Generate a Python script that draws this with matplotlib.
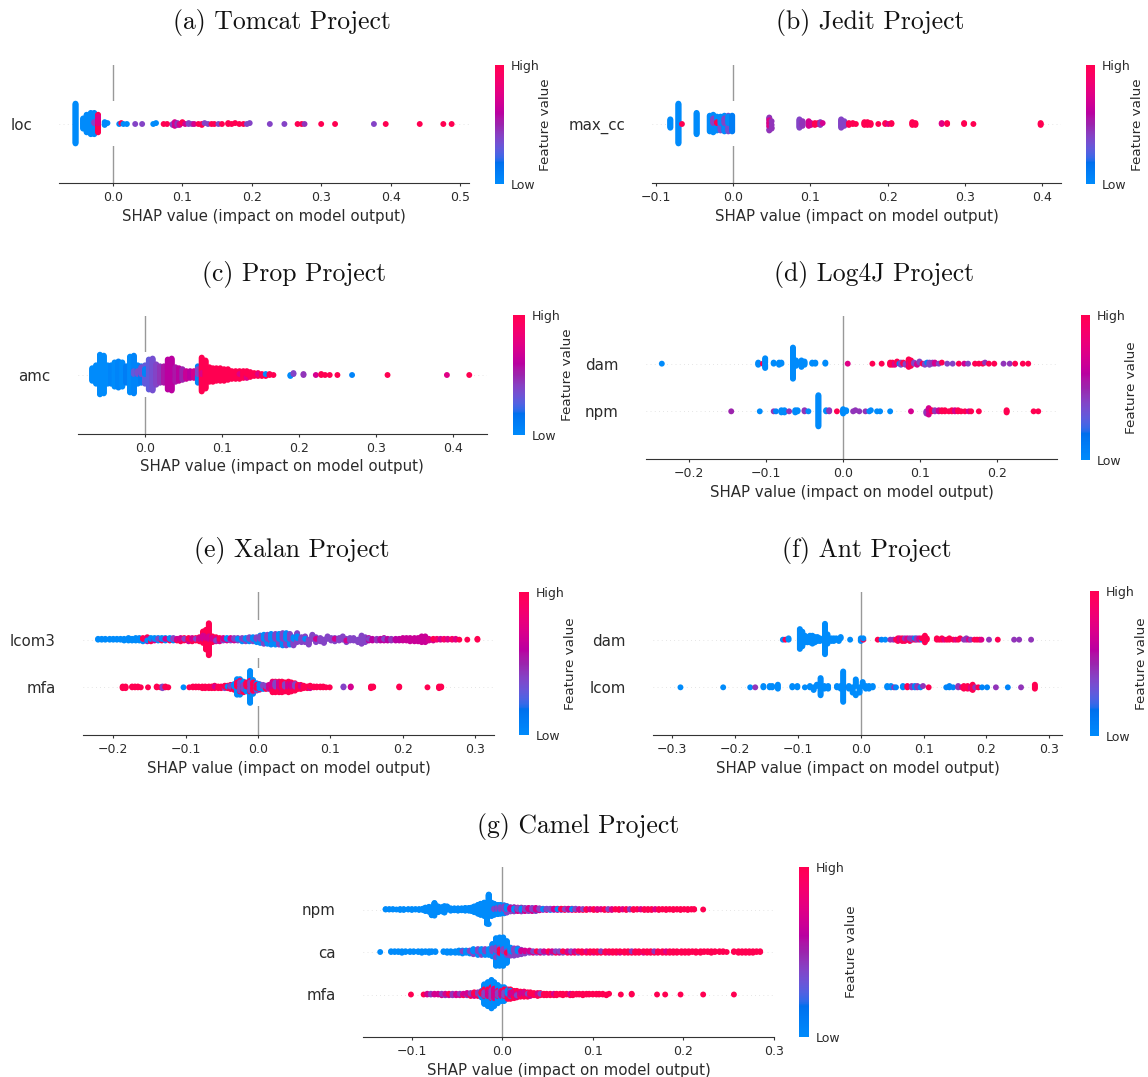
import numpy as np
import matplotlib
matplotlib.use('Agg')
import matplotlib.pyplot as plt
from matplotlib.colors import LinearSegmentedColormap, Normalize
from matplotlib.cm import ScalarMappable
from matplotlib.patches import Rectangle

W, H = 1148, 1077

# each row: SHAP value, feature value (0 = low, 1 = high), number of samples
TOMCAT_LOC = [
    [-0.054, 0.0, 44],
    [-0.043, 0.0, 12], [-0.038, 0.0, 20], [-0.032, 0.0, 24], [-0.027, 0.0, 22], [-0.027, 0.4, 2],
    [-0.0215, 1.0, 12], [-0.0215, 0.75, 8],
    [-0.012, 0.0, 3], [-0.008, 0.0, 1],
    [0.009, 0.0, 1], [0.012, 1.0, 1], [0.015, 0.0, 1], [0.020, 0.0, 1],
    [0.032, 0.4, 1], [0.042, 0.4, 1], [0.058, 0.0, 1], [0.062, 0.0, 1],
    [0.073, 1.0, 1], [0.078, 1.0, 1],
    [0.086, 0.4, 2], [0.089, 0.7, 3], [0.093, 0.45, 3], [0.096, 0.7, 2],
    [0.100, 1.0, 2], [0.104, 0.7, 1],
    [0.109, 0.4, 2], [0.114, 0.45, 1], [0.117, 0.7, 1],
    [0.123, 1.0, 1], [0.128, 1.0, 2], [0.132, 0.4, 1], [0.137, 0.4, 1],
    [0.142, 1.0, 1], [0.146, 1.0, 1], [0.152, 0.4, 1], [0.157, 1.0, 1],
    [0.166, 1.0, 2], [0.171, 1.0, 1], [0.176, 1.0, 1], [0.182, 1.0, 1],
    [0.188, 1.0, 1], [0.193, 0.4, 1], [0.197, 0.4, 1],
    [0.226, 0.4, 1], [0.247, 0.4, 1],
    [0.266, 1.0, 1], [0.272, 1.0, 1], [0.276, 0.45, 1],
    [0.300, 1.0, 1], [0.320, 1.0, 1], [0.376, 0.4, 1], [0.393, 1.0, 1],
    [0.442, 1.0, 1], [0.476, 1.0, 1], [0.488, 1.0, 1],
]

JEDIT_MAX_CC = [
    [-0.081, 0.0, 10], [-0.0705, 0.0, 44], [-0.066, 1.0, 1], [-0.047, 0.0, 24],
    [-0.030, 0.0, 18], [-0.0255, 0.0, 14], [-0.0255, 0.4, 6], [-0.0207, 0.0, 14], [-0.0207, 1.0, 2],
    [-0.016, 0.35, 8], [-0.016, 0.0, 8], [-0.011, 0.0, 12], [-0.011, 0.4, 6],
    [-0.006, 0.35, 10], [-0.006, 0.0, 8], [-0.001, 0.1, 18],
    [0.047, 0.45, 8], [0.047, 0.75, 3], [0.050, 0.45, 4],
    [0.086, 0.4, 10], [0.090, 0.45, 6], [0.098, 0.7, 6], [0.101, 0.7, 3],
    [0.106, 1.0, 3], [0.110, 1.0, 2], [0.113, 0.45, 3], [0.116, 0.7, 1],
    [0.140, 0.4, 10], [0.144, 0.4, 6],
    [0.150, 1.0, 3], [0.155, 1.0, 2], [0.159, 1.0, 1],
    [0.170, 1.0, 4], [0.174, 1.0, 4], [0.178, 1.0, 3],
    [0.188, 1.0, 1], [0.197, 1.0, 2], [0.201, 0.75, 1], [0.205, 1.0, 2],
    [0.232, 1.0, 4], [0.236, 1.0, 3], [0.270, 0.75, 2], [0.277, 1.0, 2],
    [0.299, 1.0, 2], [0.311, 1.0, 1], [0.398, 1.0, 3],
]

PROP_AMC = [
    [-0.068, 0.0, 14], [-0.063, 0.0, 20], [-0.058, 0.0, 42], [-0.053, 0.0, 40],
    [-0.048, 0.0, 20], [-0.0435, 0.05, 20], [-0.039, 0.0, 26], [-0.034, 0.05, 28],
    [-0.029, 0.0, 26], [-0.024, 0.1, 18], [-0.019, 0.0, 38], [-0.014, 0.05, 36], [-0.014, 0.3, 4],
    [-0.009, 0.05, 16], [-0.009, 0.35, 4], [-0.0044, 0.1, 10], [-0.0044, 0.35, 8],
    [0.0005, 0.3, 14], [0.0005, 0.05, 6],
    [0.0054, 0.3, 32], [0.0103, 0.35, 34], [0.015, 0.4, 22], [0.020, 0.45, 18],
    [0.025, 0.55, 18], [0.030, 0.6, 32], [0.035, 0.6, 34], [0.040, 0.55, 16],
    [0.0445, 0.6, 14], [0.049, 0.5, 12], [0.054, 0.65, 9], [0.059, 0.6, 8], [0.064, 0.7, 8],
    [0.069, 0.05, 12], [0.069, 0.4, 6], [0.074, 1.0, 34], [0.074, 0.75, 2],
    [0.079, 1.0, 30], [0.084, 1.0, 16], [0.0885, 1.0, 15], [0.093, 1.0, 14],
    [0.098, 1.0, 14], [0.103, 1.0, 13], [0.108, 1.0, 12], [0.113, 1.0, 9],
    [0.118, 1.0, 9], [0.123, 1.0, 8], [0.123, 0.75, 1], [0.128, 1.0, 8],
    [0.1325, 0.75, 4], [0.1325, 1.0, 4], [0.137, 1.0, 6], [0.142, 1.0, 4],
    [0.147, 1.0, 3], [0.147, 0.75, 1], [0.152, 1.0, 3], [0.157, 1.0, 2], [0.157, 0.0, 1],
    [0.162, 1.0, 2], [0.167, 1.0, 1],
    [0.189, 0.0, 2], [0.193, 0.4, 2], [0.206, 0.45, 2], [0.222, 0.7, 1],
    [0.229, 1.0, 2], [0.234, 1.0, 1], [0.240, 1.0, 1], [0.250, 1.0, 1],
    [0.269, 0.05, 1], [0.315, 1.0, 1], [0.392, 0.75, 1], [0.421, 1.0, 1],
]

LOG4J_DAM = [
    [-0.235, 0.0, 1],
    [-0.110, 0.0, 3], [-0.104, 1.0, 1], [-0.101, 0.0, 9],
    [-0.090, 0.0, 2], [-0.083, 0.0, 3], [-0.080, 0.0, 2],
    [-0.065, 0.0, 30], [-0.061, 0.0, 6], [-0.054, 0.0, 7], [-0.050, 0.0, 4],
    [-0.040, 0.0, 2], [-0.036, 0.0, 2], [-0.023, 0.0, 2],
    [0.006, 0.75, 1], [0.038, 1.0, 1], [0.050, 1.0, 1],
    [0.061, 1.0, 3], [0.064, 1.0, 3], [0.067, 0.75, 2], [0.070, 1.0, 2],
    [0.073, 0.05, 1], [0.075, 0.4, 2], [0.078, 1.0, 2], [0.081, 0.4, 2],
    [0.085, 1.0, 6], [0.086, 0.75, 2], [0.088, 1.0, 4],
    [0.092, 0.4, 2], [0.096, 0.7, 2], [0.099, 0.4, 2],
    [0.103, 1.0, 1], [0.106, 0.4, 2], [0.109, 0.05, 1], [0.112, 0.4, 3],
    [0.116, 0.45, 2], [0.119, 0.7, 2], [0.124, 0.4, 1], [0.128, 1.0, 1],
    [0.135, 0.4, 1], [0.142, 0.4, 1], [0.150, 1.0, 1], [0.157, 0.7, 1], [0.162, 0.4, 1],
    [0.171, 1.0, 1], [0.176, 1.0, 1], [0.181, 1.0, 1], [0.184, 0.45, 1],
    [0.189, 1.0, 1], [0.196, 1.0, 1], [0.208, 0.45, 1], [0.216, 0.45, 1],
    [0.223, 1.0, 1], [0.233, 1.0, 1], [0.240, 1.0, 1],
]

LOG4J_NPM = [
    [-0.145, 0.5, 1], [-0.108, 0.0, 1], [-0.090, 0.45, 1], [-0.087, 0.05, 1],
    [-0.080, 0.0, 3], [-0.076, 0.0, 3], [-0.070, 0.45, 1], [-0.062, 0.0, 3], [-0.059, 0.0, 2],
    [-0.050, 0.45, 2], [-0.045, 0.0, 1], [-0.032, 0.0, 30],
    [-0.022, 0.0, 2], [-0.018, 0.45, 2], [-0.008, 1.0, 1],
    [0.000, 0.0, 5], [0.004, 0.0, 2],
    [0.013, 0.45, 1], [0.016, 0.45, 1], [0.021, 0.45, 1], [0.029, 0.45, 1],
    [0.034, 0.0, 1], [0.036, 0.0, 1], [0.044, 0.0, 1], [0.048, 0.0, 1], [0.061, 0.0, 1],
    [0.088, 0.7, 1],
    [0.108, 0.45, 3], [0.111, 0.7, 4], [0.115, 1.0, 2], [0.119, 0.45, 2],
    [0.124, 0.7, 2], [0.128, 1.0, 2], [0.132, 1.0, 2],
    [0.137, 1.0, 1], [0.141, 1.0, 2], [0.145, 0.7, 2], [0.149, 1.0, 2], [0.153, 1.0, 1],
    [0.158, 1.0, 1], [0.163, 0.7, 1], [0.166, 1.0, 1], [0.176, 1.0, 1],
    [0.212, 1.0, 3], [0.247, 1.0, 1], [0.253, 1.0, 1],
]

XALAN_LCOM3 = [
    [-0.221, 0.0, 2], [-0.216, 0.0, 2], [-0.211, 0.0, 2], [-0.205, 0.0, 2], [-0.200, 0.0, 2],
    [-0.195, 0.0, 2], [-0.190, 0.0, 2], [-0.185, 0.0, 3], [-0.179, 0.0, 4], [-0.174, 0.0, 3],
    [-0.169, 0.0, 4], [-0.164, 0.0, 4], [-0.159, 0.0, 3], [-0.159, 1.0, 2],
    [-0.153, 1.0, 3], [-0.153, 0.7, 2], [-0.153, 0.0, 1], [-0.148, 1.0, 3], [-0.148, 0.0, 2],
    [-0.143, 0.7, 2], [-0.143, 0.0, 2], [-0.138, 0.0, 3], [-0.138, 0.4, 1],
    [-0.133, 1.0, 2], [-0.133, 0.0, 2], [-0.128, 0.0, 3], [-0.128, 0.7, 1],
    [-0.122, 1.0, 2], [-0.122, 0.0, 2], [-0.117, 0.0, 2], [-0.117, 0.4, 2],
    [-0.112, 1.0, 2], [-0.112, 0.7, 1], [-0.107, 1.0, 3], [-0.107, 0.7, 2],
    [-0.102, 1.0, 3], [-0.102, 0.4, 1], [-0.096, 0.7, 3], [-0.096, 1.0, 2],
    [-0.091, 1.0, 3], [-0.091, 0.7, 2], [-0.086, 1.0, 3], [-0.086, 0.4, 1],
    [-0.081, 1.0, 4], [-0.081, 0.7, 2], [-0.076, 1.0, 8], [-0.076, 0.7, 3],
    [-0.072, 1.0, 12], [-0.072, 0.7, 2], [-0.068, 1.0, 36], [-0.068, 0.7, 4],
    [-0.063, 1.0, 6], [-0.063, 0.7, 2],
    [-0.058, 1.0, 3], [-0.058, 0.7, 2], [-0.058, 0.4, 1], [-0.053, 0.7, 3], [-0.053, 1.0, 2],
    [-0.048, 0.4, 2], [-0.048, 0.7, 2], [-0.043, 0.7, 2], [-0.043, 0.0, 2],
    [-0.038, 0.4, 2], [-0.038, 0.7, 2], [-0.033, 0.7, 2], [-0.033, 0.4, 2],
    [-0.028, 0.4, 3], [-0.028, 0.0, 1], [-0.022, 0.0, 3], [-0.022, 0.4, 2],
    [-0.017, 0.4, 3], [-0.017, 0.0, 2], [-0.012, 0.0, 3], [-0.012, 0.4, 3],
    [-0.007, 0.4, 3], [-0.007, 0.0, 3], [-0.002, 0.0, 4], [-0.002, 0.4, 3],
    [0.003, 0.0, 6], [0.003, 0.4, 4], [0.008, 0.4, 6], [0.008, 0.0, 6],
    [0.013, 0.0, 6], [0.013, 0.4, 6], [0.018, 0.4, 6], [0.018, 0.0, 8],
    [0.024, 0.0, 7], [0.024, 0.4, 7], [0.029, 0.4, 7], [0.029, 0.0, 7],
    [0.034, 0.0, 8], [0.034, 0.4, 8], [0.039, 0.4, 8], [0.039, 0.0, 8],
    [0.044, 0.0, 7], [0.044, 0.4, 7],
    [0.049, 0.4, 6], [0.049, 0.0, 2], [0.054, 0.4, 6], [0.054, 0.0, 2],
    [0.060, 0.4, 7], [0.065, 0.4, 7], [0.065, 0.0, 1], [0.070, 0.4, 7], [0.075, 0.4, 6],
    [0.080, 0.4, 6], [0.080, 0.7, 1], [0.086, 0.4, 5], [0.091, 0.4, 5],
    [0.096, 0.4, 4], [0.101, 0.4, 4], [0.106, 0.4, 4], [0.106, 0.7, 1], [0.112, 0.4, 4],
    [0.117, 0.4, 4], [0.122, 0.4, 3], [0.122, 0.7, 1], [0.127, 0.4, 4], [0.132, 0.4, 4],
    [0.138, 0.4, 4], [0.143, 0.4, 7], [0.148, 0.4, 7],
    [0.153, 0.6, 3], [0.153, 0.4, 1], [0.158, 0.6, 3], [0.164, 0.45, 3], [0.169, 0.6, 3],
    [0.174, 0.6, 3], [0.174, 0.4, 1], [0.179, 0.6, 3], [0.184, 0.45, 3], [0.190, 0.6, 3],
    [0.195, 0.6, 3], [0.200, 0.65, 4], [0.205, 0.65, 4], [0.210, 0.65, 5], [0.216, 0.65, 5],
    [0.221, 0.65, 5], [0.226, 0.65, 8], [0.231, 0.65, 8],
    [0.236, 0.7, 3], [0.242, 0.7, 2], [0.242, 1.0, 1], [0.247, 0.9, 2], [0.252, 0.7, 2],
    [0.257, 0.9, 2], [0.262, 0.75, 2], [0.268, 0.9, 2], [0.273, 0.75, 2], [0.278, 1.0, 1],
    [0.289, 1.0, 1], [0.303, 1.0, 2],
]

XALAN_MFA = [
    [-0.187, 1.0, 3], [-0.183, 1.0, 3], [-0.174, 1.0, 2], [-0.170, 1.0, 2], [-0.166, 1.0, 2],
    [-0.162, 1.0, 1], [-0.152, 1.0, 1],
    [-0.140, 1.0, 2], [-0.135, 1.0, 1], [-0.132, 0.4, 2], [-0.128, 1.0, 2], [-0.124, 1.0, 1],
    [-0.103, 0.0, 1],
    [-0.095, 1.0, 1], [-0.090, 1.0, 2], [-0.086, 1.0, 2], [-0.082, 1.0, 2], [-0.077, 1.0, 3],
    [-0.073, 1.0, 3], [-0.068, 1.0, 3], [-0.064, 1.0, 3], [-0.060, 1.0, 3], [-0.060, 0.7, 1],
    [-0.055, 1.0, 3], [-0.051, 1.0, 3], [-0.046, 0.4, 2], [-0.046, 1.0, 2],
    [-0.042, 1.0, 3], [-0.042, 0.0, 1],
    [-0.038, 1.0, 4], [-0.038, 0.4, 2], [-0.033, 1.0, 4], [-0.033, 0.0, 4],
    [-0.029, 0.0, 14], [-0.029, 1.0, 6],
    [-0.025, 0.0, 10], [-0.025, 1.0, 6], [-0.025, 0.4, 4],
    [-0.020, 1.0, 6], [-0.020, 0.0, 6], [-0.020, 0.4, 2],
    [-0.016, 0.0, 6], [-0.016, 1.0, 6],
    [-0.011, 0.0, 30], [-0.011, 1.0, 6], [-0.011, 0.4, 4],
    [-0.007, 0.0, 10], [-0.007, 0.4, 4], [-0.007, 1.0, 4],
    [-0.002, 0.4, 4], [-0.002, 0.0, 4], [-0.002, 1.0, 2],
    [0.002, 0.4, 4], [0.002, 1.0, 2], [0.002, 0.0, 2],
    [0.007, 0.0, 3], [0.007, 0.4, 3], [0.011, 1.0, 3], [0.011, 0.4, 2],
    [0.015, 0.0, 2], [0.015, 0.4, 2], [0.015, 0.7, 2],
    [0.020, 1.0, 8], [0.020, 0.7, 6], [0.024, 1.0, 8], [0.024, 0.4, 6],
    [0.029, 1.0, 8], [0.029, 0.7, 6], [0.033, 0.7, 6], [0.033, 1.0, 8],
    [0.037, 1.0, 8], [0.037, 0.4, 4], [0.042, 1.0, 10], [0.042, 0.7, 4],
    [0.046, 1.0, 8], [0.046, 0.7, 4], [0.051, 1.0, 6], [0.051, 0.4, 4],
    [0.055, 1.0, 6], [0.059, 1.0, 4], [0.059, 0.7, 2],
    [0.063, 1.0, 4], [0.068, 1.0, 3], [0.072, 0.7, 2], [0.072, 1.0, 2], [0.077, 1.0, 2],
    [0.081, 1.0, 2], [0.086, 1.0, 2], [0.090, 1.0, 2], [0.094, 1.0, 1], [0.099, 1.0, 1],
    [0.118, 0.4, 2], [0.128, 0.7, 2], [0.156, 1.0, 3], [0.159, 1.0, 2], [0.195, 1.0, 2],
    [0.234, 1.0, 1], [0.250, 1.0, 3], [0.253, 1.0, 2],
]

ANT_DAM = [
    [-0.124, 0.0, 1], [-0.120, 1.0, 1], [-0.115, 0.0, 2],
    [-0.097, 0.0, 16], [-0.093, 0.0, 12],
    [-0.089, 0.0, 6], [-0.085, 0.0, 5], [-0.081, 0.0, 6], [-0.077, 0.0, 7],
    [-0.073, 0.0, 5], [-0.069, 0.0, 4], [-0.065, 0.0, 3],
    [-0.057, 0.0, 24], [-0.053, 0.0, 8],
    [-0.047, 0.0, 3], [-0.043, 0.0, 3], [-0.039, 0.0, 2], [-0.035, 0.0, 2], [-0.032, 0.0, 2],
    [-0.017, 0.0, 1], [0.000, 0.0, 3], [0.004, 1.0, 1], [0.004, 0.0, 1],
    [0.027, 1.0, 1], [0.033, 0.05, 1], [0.039, 0.0, 1],
    [0.047, 0.45, 1], [0.052, 0.45, 1], [0.056, 1.0, 1],
    [0.059, 1.0, 2], [0.062, 0.75, 2], [0.066, 1.0, 3], [0.070, 1.0, 2], [0.070, 0.45, 1],
    [0.074, 0.75, 2], [0.078, 1.0, 2], [0.078, 0.45, 1],
    [0.082, 0.45, 2], [0.086, 1.0, 1], [0.086, 0.05, 1], [0.089, 0.45, 2],
    [0.093, 0.75, 2], [0.097, 0.05, 1], [0.097, 1.0, 1],
    [0.102, 1.0, 6], [0.105, 1.0, 2],
    [0.121, 1.0, 2], [0.125, 1.0, 1], [0.129, 1.0, 2], [0.133, 0.75, 1], [0.137, 1.0, 1],
    [0.141, 1.0, 2], [0.147, 1.0, 1], [0.151, 0.75, 1], [0.155, 1.0, 1], [0.158, 1.0, 1],
    [0.164, 0.45, 1], [0.168, 0.45, 2], [0.172, 0.75, 1], [0.175, 0.45, 1],
    [0.181, 1.0, 1], [0.185, 1.0, 1], [0.189, 1.0, 1], [0.192, 0.75, 1],
    [0.204, 0.45, 1], [0.218, 1.0, 1], [0.244, 0.45, 1], [0.252, 0.45, 1], [0.271, 0.45, 1],
]

ANT_LCOM = [
    [-0.287, 0.0, 1], [-0.219, 0.0, 1], [-0.176, 0.0, 1], [-0.168, 0.45, 1],
    [-0.155, 0.0, 2], [-0.145, 0.0, 2], [-0.141, 0.0, 2], [-0.132, 0.0, 4],
    [-0.109, 0.0, 2], [-0.101, 0.0, 2], [-0.089, 0.0, 1],
    [-0.081, 0.0, 2], [-0.075, 0.0, 3], [-0.070, 0.0, 2], [-0.064, 0.0, 14],
    [-0.058, 0.0, 3], [-0.052, 0.0, 3], [-0.038, 0.0, 2], [-0.032, 0.0, 3],
    [-0.028, 0.0, 24], [-0.019, 1.0, 1], [-0.019, 0.0, 2],
    [-0.013, 0.0, 5], [-0.008, 0.0, 8], [-0.002, 0.0, 5], [0.003, 0.0, 4],
    [0.008, 0.0, 3], [0.013, 0.0, 3], [0.019, 0.0, 2],
    [0.042, 0.0, 2], [0.048, 0.0, 2], [0.053, 0.45, 1], [0.056, 0.05, 1],
    [0.067, 0.0, 2], [0.074, 1.0, 2],
    [0.081, 0.45, 2], [0.086, 0.05, 2], [0.090, 0.45, 2], [0.095, 0.05, 1], [0.099, 0.45, 1],
    [0.108, 1.0, 1], [0.136, 0.05, 1], [0.141, 0.05, 2], [0.147, 0.05, 1],
    [0.155, 0.45, 2], [0.161, 0.75, 1],
    [0.164, 1.0, 3], [0.170, 1.0, 3], [0.175, 0.75, 2], [0.178, 1.0, 3], [0.182, 0.45, 1],
    [0.187, 1.0, 1], [0.193, 0.05, 1], [0.201, 0.05, 1], [0.215, 0.45, 1],
    [0.234, 0.05, 1], [0.255, 0.45, 1], [0.277, 1.0, 4],
]

CAMEL_NPM = [
    [-0.129, 0.0, 2], [-0.125, 0.0, 2], [-0.121, 0.0, 2], [-0.117, 0.0, 1], [-0.113, 0.0, 3],
    [-0.109, 0.0, 3], [-0.104, 0.0, 2], [-0.100, 0.0, 3], [-0.096, 0.0, 2], [-0.092, 0.0, 3],
    [-0.088, 0.0, 4], [-0.085, 0.0, 10], [-0.081, 0.0, 14], [-0.078, 0.0, 16], [-0.075, 0.0, 18],
    [-0.071, 0.0, 16], [-0.067, 0.0, 12], [-0.064, 0.0, 10], [-0.061, 0.0, 8],
    [-0.057, 0.0, 7], [-0.053, 0.0, 6], [-0.049, 0.0, 7], [-0.045, 0.0, 6], [-0.041, 0.0, 8],
    [-0.037, 0.0, 8], [-0.034, 0.0, 10], [-0.031, 0.0, 16], [-0.027, 0.0, 24], [-0.024, 0.0, 30],
    [-0.020, 0.0, 36], [-0.017, 0.0, 38], [-0.015, 0.0, 40], [-0.012, 0.0, 36],
    [-0.009, 0.0, 28], [-0.009, 0.4, 2], [-0.005, 0.0, 20], [-0.005, 0.4, 5],
    [-0.002, 0.0, 18], [-0.002, 0.4, 6], [0.002, 0.0, 14], [0.002, 0.4, 8],
    [0.005, 0.4, 10], [0.005, 0.0, 8], [0.009, 0.4, 8], [0.009, 0.7, 4],
    [0.013, 0.4, 6], [0.013, 0.7, 4], [0.013, 0.0, 2], [0.017, 0.7, 6], [0.017, 0.4, 4],
    [0.021, 0.4, 6], [0.021, 0.7, 3], [0.021, 0.0, 2], [0.025, 0.7, 5], [0.025, 0.4, 4],
    [0.029, 0.4, 5], [0.029, 0.7, 4], [0.033, 0.7, 5], [0.033, 0.4, 4],
    [0.037, 0.4, 4], [0.037, 0.0, 2], [0.037, 0.7, 3], [0.041, 0.7, 3], [0.041, 0.4, 3],
    [0.045, 0.4, 3], [0.045, 0.0, 1], [0.049, 0.7, 2], [0.049, 0.4, 2], [0.053, 0.0, 2],
    [0.053, 0.4, 2], [0.057, 0.4, 2], [0.057, 0.7, 2], [0.061, 0.7, 3], [0.061, 0.0, 1],
    [0.065, 0.4, 2], [0.065, 1.0, 2], [0.069, 1.0, 3], [0.069, 0.4, 1], [0.073, 0.4, 2],
    [0.073, 0.7, 2], [0.077, 0.7, 3], [0.077, 0.0, 1], [0.081, 1.0, 2], [0.081, 0.4, 2],
    [0.085, 0.7, 3], [0.089, 1.0, 2], [0.089, 0.4, 1],
    [0.093, 1.0, 3], [0.097, 0.75, 2], [0.101, 1.0, 3], [0.105, 1.0, 2], [0.105, 0.75, 1],
    [0.109, 0.75, 2], [0.113, 1.0, 3], [0.117, 1.0, 2], [0.117, 0.4, 1], [0.121, 0.75, 3],
    [0.125, 1.0, 2], [0.129, 1.0, 3], [0.133, 0.75, 2], [0.137, 1.0, 3], [0.141, 0.45, 2],
    [0.145, 1.0, 3], [0.149, 1.0, 2], [0.153, 0.75, 2], [0.157, 1.0, 3], [0.161, 0.45, 1],
    [0.161, 1.0, 2], [0.165, 1.0, 3], [0.169, 0.75, 2], [0.173, 1.0, 3], [0.177, 1.0, 2],
    [0.181, 1.0, 3], [0.185, 1.0, 2], [0.189, 1.0, 3], [0.193, 1.0, 2], [0.197, 1.0, 3],
    [0.201, 1.0, 2], [0.205, 1.0, 3], [0.209, 1.0, 2], [0.212, 1.0, 2], [0.222, 1.0, 1],
]

CAMEL_CA = [
    [-0.135, 0.0, 1], [-0.123, 0.0, 2], [-0.119, 0.0, 2], [-0.115, 0.0, 2], [-0.111, 0.0, 3],
    [-0.107, 0.0, 2], [-0.102, 0.0, 2], [-0.098, 0.0, 2], [-0.093, 0.0, 2], [-0.089, 0.0, 3],
    [-0.085, 0.0, 2], [-0.081, 0.0, 3], [-0.078, 0.0, 2], [-0.074, 0.0, 2],
    [-0.065, 0.0, 2], [-0.061, 0.0, 3], [-0.057, 0.0, 3], [-0.052, 0.0, 3], [-0.048, 0.0, 4],
    [-0.044, 0.0, 4], [-0.044, 0.4, 1], [-0.040, 0.0, 4], [-0.036, 0.0, 3], [-0.036, 0.4, 2],
    [-0.032, 0.4, 4], [-0.032, 0.0, 4], [-0.027, 0.0, 5], [-0.027, 0.4, 4],
    [-0.023, 0.4, 5], [-0.023, 0.0, 4], [-0.019, 0.0, 5], [-0.019, 0.4, 4],
    [-0.015, 0.4, 4], [-0.015, 0.0, 5], [-0.011, 0.0, 8], [-0.011, 0.4, 3],
    [-0.007, 0.0, 24], [-0.007, 0.4, 4], [-0.003, 0.0, 34], [-0.003, 0.4, 4], [-0.003, 1.0, 2],
    [0.001, 0.0, 36], [0.001, 0.4, 4], [0.005, 0.0, 26], [0.005, 0.4, 4], [0.005, 1.0, 1],
    [0.009, 0.4, 6], [0.009, 0.0, 6], [0.013, 0.0, 5], [0.013, 0.4, 6],
    [0.017, 0.4, 6], [0.017, 0.0, 4], [0.021, 0.4, 5], [0.021, 0.7, 2],
    [0.025, 0.4, 3], [0.025, 0.7, 2], [0.030, 0.4, 2], [0.030, 0.7, 2],
    [0.034, 0.7, 2], [0.034, 0.4, 1], [0.038, 0.4, 2], [0.038, 1.0, 1],
    [0.042, 0.7, 2], [0.042, 0.4, 1], [0.046, 0.4, 2], [0.046, 0.7, 1],
    [0.051, 0.7, 2], [0.051, 1.0, 1], [0.055, 0.4, 2], [0.055, 0.7, 1],
    [0.059, 1.0, 2], [0.059, 0.4, 1], [0.063, 0.7, 2], [0.063, 0.4, 1],
    [0.067, 0.4, 2], [0.067, 1.0, 1], [0.072, 1.0, 2], [0.072, 0.7, 1],
    [0.076, 0.7, 2], [0.076, 0.4, 1], [0.080, 1.0, 2], [0.080, 0.7, 1],
    [0.084, 0.4, 2], [0.084, 1.0, 1], [0.088, 1.0, 3],
    [0.093, 1.0, 2], [0.093, 0.75, 1], [0.097, 1.0, 3], [0.101, 0.75, 2], [0.101, 1.0, 1],
    [0.105, 1.0, 3], [0.109, 1.0, 2], [0.109, 0.45, 1], [0.114, 1.0, 3], [0.118, 0.75, 2],
    [0.118, 1.0, 1], [0.122, 1.0, 3], [0.126, 1.0, 3], [0.130, 0.75, 2], [0.130, 1.0, 1],
    [0.135, 1.0, 3], [0.139, 1.0, 3], [0.143, 1.0, 2], [0.143, 0.45, 1], [0.147, 1.0, 3],
    [0.151, 1.0, 3], [0.156, 0.75, 2], [0.156, 1.0, 1], [0.160, 1.0, 3], [0.164, 1.0, 3],
    [0.168, 1.0, 2], [0.168, 0.45, 1], [0.172, 1.0, 3], [0.177, 1.0, 3], [0.181, 1.0, 2],
    [0.181, 0.75, 1], [0.185, 1.0, 3], [0.189, 1.0, 3], [0.193, 0.45, 1], [0.193, 1.0, 2],
    [0.198, 1.0, 3], [0.202, 1.0, 3], [0.206, 1.0, 3], [0.210, 1.0, 2], [0.214, 1.0, 3],
    [0.219, 1.0, 3], [0.223, 1.0, 2], [0.227, 1.0, 2], [0.231, 1.0, 3], [0.235, 1.0, 2],
    [0.240, 1.0, 2], [0.244, 1.0, 2], [0.248, 1.0, 1], [0.256, 1.0, 2], [0.261, 1.0, 3],
    [0.265, 1.0, 3], [0.269, 1.0, 3], [0.273, 1.0, 3], [0.277, 1.0, 3], [0.281, 1.0, 2],
    [0.285, 1.0, 2],
]

CAMEL_MFA = [
    [-0.101, 1.0, 1], [-0.087, 1.0, 1], [-0.083, 0.7, 2], [-0.079, 0.45, 2], [-0.075, 0.7, 2],
    [-0.071, 0.7, 2], [-0.067, 0.7, 2], [-0.067, 0.45, 1], [-0.063, 0.45, 2], [-0.063, 0.7, 1],
    [-0.059, 0.7, 2], [-0.059, 1.0, 1], [-0.055, 0.45, 3], [-0.051, 0.7, 3],
    [-0.047, 0.7, 2], [-0.047, 0.45, 1], [-0.043, 1.0, 2], [-0.043, 0.7, 1],
    [-0.039, 0.45, 2], [-0.039, 0.7, 2], [-0.035, 1.0, 3], [-0.035, 0.45, 2],
    [-0.031, 0.7, 3], [-0.031, 1.0, 3], [-0.027, 1.0, 3], [-0.027, 0.45, 3],
    [-0.023, 0.0, 6], [-0.023, 1.0, 4],
    [-0.020, 0.0, 20], [-0.020, 1.0, 6], [-0.020, 0.4, 2],
    [-0.016, 0.0, 26], [-0.016, 1.0, 6], [-0.016, 0.7, 2],
    [-0.012, 0.0, 28], [-0.012, 1.0, 8], [-0.012, 0.4, 4],
    [-0.009, 0.0, 24], [-0.009, 1.0, 6], [-0.009, 0.7, 4],
    [-0.005, 0.0, 20], [-0.005, 1.0, 4], [-0.005, 0.4, 2],
    [-0.001, 0.0, 14], [-0.001, 1.0, 4], [-0.001, 0.7, 2],
    [0.002, 0.0, 12], [0.002, 1.0, 6], [0.002, 0.4, 2],
    [0.006, 1.0, 8], [0.006, 0.0, 6], [0.009, 1.0, 8], [0.009, 0.0, 4], [0.009, 0.7, 2],
    [0.013, 1.0, 8], [0.013, 0.7, 3], [0.016, 1.0, 6], [0.016, 0.7, 3], [0.016, 0.4, 1],
    [0.020, 1.0, 6], [0.020, 0.7, 2], [0.024, 1.0, 5], [0.024, 0.7, 3],
    [0.028, 1.0, 6], [0.028, 0.4, 1], [0.031, 0.7, 3], [0.031, 1.0, 3],
    [0.035, 1.0, 4], [0.039, 1.0, 4], [0.039, 0.7, 1], [0.042, 1.0, 3], [0.042, 0.4, 1],
    [0.046, 1.0, 3], [0.049, 1.0, 3], [0.053, 1.0, 3], [0.057, 1.0, 2], [0.057, 0.7, 1],
    [0.060, 1.0, 3], [0.064, 1.0, 2], [0.067, 1.0, 3], [0.071, 1.0, 2], [0.075, 1.0, 2],
    [0.075, 0.7, 1], [0.078, 1.0, 3], [0.082, 1.0, 2], [0.085, 1.0, 2], [0.089, 1.0, 3],
    [0.093, 1.0, 2], [0.096, 1.0, 2], [0.100, 1.0, 2], [0.104, 1.0, 2], [0.107, 1.0, 2],
    [0.111, 1.0, 2], [0.115, 1.0, 2], [0.118, 1.0, 1],
    [0.131, 1.0, 1], [0.143, 1.0, 2], [0.171, 1.0, 1], [0.180, 1.0, 1], [0.197, 1.0, 1],
    [0.222, 1.0, 1], [0.256, 1.0, 1],
]

TITLES = ['(a) Tomcat Project', '(b) Jedit Project', '(c) Prop Project', '(d) Log4J Project',
          '(e) Xalan Project', '(f) Ant Project', '(g) Camel Project']
FEATURE_NAMES = [['loc'], ['max_cc'], ['amc'], ['dam', 'npm'], ['lcom3', 'mfa'],
                 ['dam', 'lcom'], ['npm', 'ca', 'mfa']]
FEATURE_DATA = [[TOMCAT_LOC], [JEDIT_MAX_CC], [PROP_AMC], [LOG4J_DAM, LOG4J_NPM],
                [XALAN_LCOM3, XALAN_MFA], [ANT_DAM, ANT_LCOM], [CAMEL_NPM, CAMEL_CA, CAMEL_MFA]]

# layout in pixels: title centre, axes box, colorbar box, x range
TITLE_POS = [(282, 23), (870, 23), (294, 275), (874, 275), (292, 551), (867, 551), (578, 827)]
AX_BOX = [(59, 65, 469, 183), (652, 65, 1061, 183), (77.5, 316, 487, 434), (646, 316, 1057, 459),
          (83, 592, 494, 735), (653, 592, 1062, 735), (363, 867, 774, 1037)]
CB_BOX = [(494.6, 65, 503.6, 184), (1086, 65, 1095, 184), (512.5, 315, 525, 435),
          (1081, 315, 1089.5, 460), (519, 592, 528.6, 735), (1090, 591, 1099, 736),
          (798.6, 867, 809, 1037)]
XLIMS = [(-0.0778, 0.513), (-0.1047, 0.4243), (-0.0871, 0.444), (-0.2555, 0.2773),
         (-0.2418, 0.3259), (-0.3307, 0.3202), (-0.154, 0.3003)]
# panels whose point clouds were rasterized onto a white background
RASTER_BG = [True, True, True, False, True, False, False]

DOT = 18
TEXT = '#2b2b2b'


def lch_to_rgb(l, c, h):
    a, b = c * np.cos(h), c * np.sin(h)
    fy = (l + 16.0) / 116.0
    fx, fz = fy + a / 500.0, fy - b / 200.0

    def finv(t):
        return t ** 3 if t > 6 / 29 else 3 * (6 / 29) ** 2 * (t - 4 / 29)

    xyz = np.array([0.95047 * finv(fx), finv(fy), 1.08883 * finv(fz)])
    m = np.array([[3.2406, -1.5372, -0.4986],
                  [-0.9689, 1.8758, 0.0415],
                  [0.0557, -0.2040, 1.0570]])
    lin = m @ xyz
    rgb = np.where(lin <= 0.0031308, 12.92 * lin, 1.055 * np.abs(lin) ** (1 / 2.4) - 0.055)
    return np.clip(rgb, 0, 1)


def red_blue():
    n = 100
    ls = list(np.linspace(54.0, 40.0, n // 2)) + list(np.linspace(40.0, 54.0, n // 2))
    cs = np.linspace(70.0, 90.0, n)
    hs = np.linspace(4.6588, 0.35470565 + 2 * np.pi, n)
    cols = [lch_to_rgb(l, c, h) for l, c, h in zip(ls, cs, hs)]
    return LinearSegmentedColormap.from_list('red_blue', cols)


CMAP = red_blue()


def expand(rows):
    rows = np.asarray(rows, dtype=float)
    counts = rows[:, 2].astype(int)
    shap = np.repeat(rows[:, 0], counts)
    vals = np.repeat(rows[:, 1], counts)
    ranks = np.concatenate([np.arange(k) for k in counts])
    return shap, vals, ranks


def swarm(shap, ranks, row_height=0.4, nbins=100):
    quant = np.round(nbins * (shap - shap.min()) / (shap.max() - shap.min() + 1e-8))
    order = np.lexsort((ranks, quant))
    ys = np.zeros(len(shap))
    layer, last = 0, None
    for i in order:
        if quant[i] != last:
            layer = 0
        ys[i] = np.ceil(layer / 2) * ((layer % 2) * 2 - 1)
        layer += 1
        last = quant[i]
    ys *= 0.9 * (row_height / np.max(ys + 1))
    return ys


def px_rect(x0, y0, x1, y1):
    return [x0 / W, 1 - y1 / H, (x1 - x0) / W, (y1 - y0) / H]


fig = plt.figure(figsize=(W / 100, H / 100), dpi=100)

for k in range(len(TITLES)):
    x0, y0, x1, y1 = AX_BOX[k]
    ax = fig.add_axes(px_rect(x0, y0, x1, y1))
    names = FEATURE_NAMES[k]
    n = len(names)
    xlo, xhi = XLIMS[k]
    ax.set_xlim(xlo, xhi)
    ax.set_ylim(-1, n)
    ax.axvline(0, color='#999999', lw=1, zorder=-1)
    # dot radius in data units, for the white background behind rasterized clouds
    rx = 3.0 * (xhi - xlo) / (x1 - x0)
    ry = 3.0 * (n + 1) / (y1 - y0)
    for i, rows in enumerate(FEATURE_DATA[k]):
        pos = n - 1 - i
        ax.axhline(pos, color='#cccccc', lw=0.5, dashes=(1, 5), zorder=-1)
        shap, vals, ranks = expand(rows)
        ys = swarm(shap, ranks)
        ax.scatter(shap, pos + ys, s=DOT, c=vals, cmap=CMAP, vmin=0, vmax=1,
                   linewidths=0, zorder=3)
        if RASTER_BG[k]:
            ax.add_patch(Rectangle((shap.min() - rx, pos + ys.min() - ry),
                                   shap.max() - shap.min() + 2 * rx,
                                   ys.max() - ys.min() + 2 * ry,
                                   facecolor='white', edgecolor='none', zorder=-0.5))
    ax.set_yticks(range(n))
    ax.set_yticklabels(names[::-1], fontsize=10.8, color=TEXT)
    ax.tick_params(axis='y', length=0, pad=19.5)
    ax.tick_params(axis='x', labelsize=9, length=2.5, width=0.8, pad=3,
                   color='#333333', labelcolor=TEXT)
    for side in ['top', 'right', 'left']:
        ax.spines[side].set_visible(False)
    ax.spines['bottom'].set_color('#333333')
    ax.set_xlabel('SHAP value (impact on model output)', fontsize=10.8, color=TEXT, labelpad=3.5)

    cax = fig.add_axes(px_rect(*CB_BOX[k]))
    cb = fig.colorbar(ScalarMappable(norm=Normalize(0, 1), cmap=CMAP), cax=cax, ticks=[0, 1])
    cb.set_ticklabels(['Low', 'High'])
    cb.ax.tick_params(labelsize=9, length=0, pad=5, labelcolor=TEXT)
    cb.set_label('Feature value', size=9.7, labelpad=0, color=TEXT)
    cb.outline.set_visible(False)

    tx, ty = TITLE_POS[k]
    fig.text(tx / W, 1 - ty / H, TITLES[k], family='cmr10', fontsize=18.5,
             ha='center', va='center', color='#111111')

fig.savefig('out.png', dpi=100, facecolor='white')
